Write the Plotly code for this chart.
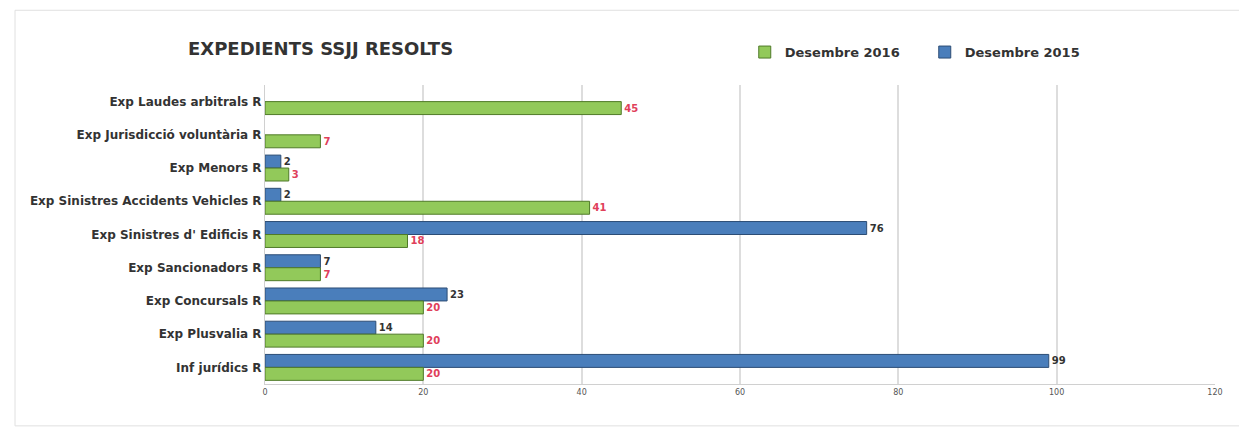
import plotly.graph_objects as go

categories = [
    "Exp Laudes arbitrals R",
    "Exp Jurisdicció voluntària R",
    "Exp Menors R",
    "Exp Sinistres Accidents Vehicles R",
    "Exp Sinistres d' Edificis R",
    "Exp Sancionadors R",
    "Exp Concursals R",
    "Exp Plusvalia R",
    "Inf jurídics R",
]
desembre_2015 = [None, None, 2, 2, 76, 7, 23, 14, 99]
desembre_2016 = [45, 7, 3, 41, 18, 7, 20, 20, 20]
x_ticks = [0, 20, 40, 60, 80, 100, 120]

fig = go.Figure()

# blue first so it sits on top of each pair (y axis is reversed)
fig.add_trace(go.Bar(
    y=categories, x=desembre_2015, name="<b>Desembre 2015</b>", orientation="h",
    marker=dict(color="#4A7EBB", line=dict(color="#2C4D75", width=1)),
    text=desembre_2015, textposition="outside", texttemplate="<b>%{x}</b>",
    textfont=dict(size=10, color="#333333", family="DejaVu Sans"),
    cliponaxis=False,
))
fig.add_trace(go.Bar(
    y=categories, x=desembre_2016, name="<b>Desembre 2016</b>", orientation="h",
    marker=dict(color="#92C95A", line=dict(color="#4F7A28", width=1)),
    text=desembre_2016, textposition="outside", texttemplate="<b>%{x}</b>",
    textfont=dict(size=10, color="#E0405A", family="DejaVu Sans"),
    cliponaxis=False,
))

fig.update_layout(
    width=1247, height=429,
    barmode="group", bargap=0.22, bargroupgap=0.0,
    plot_bgcolor="white", paper_bgcolor="white",
    margin=dict(l=257, r=40, t=77, b=53),
    font=dict(family="DejaVu Sans", color="#333333"),
    title=dict(text="<b>EXPEDIENTS SSJJ RESOLTS</b>", x=180 / 1247, xanchor="left",
               y=0.905, yanchor="middle", font=dict(size=18, color="#333333")),
    legend=dict(orientation="h", x=0.505, xanchor="left", y=1.11, yanchor="middle",
                traceorder="reversed", font=dict(size=13, color="#333333"),
                itemwidth=30, entrywidth=135),
    showlegend=True,
)
fig.update_xaxes(range=[0, 120], tickvals=x_ticks, showgrid=True, gridcolor="#DDDDDD",
                 gridwidth=2, zeroline=False, showline=True, linecolor="#D0D0D0",
                 tickfont=dict(size=8, color="#555555"), ticks="")
fig.update_yaxes(autorange="reversed", showgrid=False, showline=True, linecolor="#D0D0D0",
                 tickfont=dict(size=12, color="#333333"), ticks="",
                 tickvals=categories, ticktext=[f"<b>{c}</b>" for c in categories])

fig.add_shape(type="rect", xref="paper", yref="paper", x0=-250 / 950, x1=1.035,
              y0=-0.14, y1=1.25, line=dict(color="#E0E0E0", width=1))

fig.write_html("out.html")
